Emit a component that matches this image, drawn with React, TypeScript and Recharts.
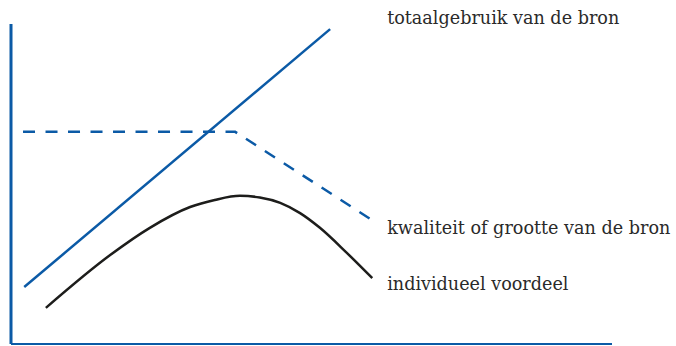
import React from "react";
import { LineChart, Line, XAxis, YAxis } from "recharts";

// schematic values (0-100 on both axes)
const usageX = [2.2, 53.1];
const usageY = [17.8, 98.4];

const qualityX = [2.0, 37.3, 60.1];
const qualityY = [66.3, 66.3, 38.7];

const benefitX = [5.8, 16.5, 23.1, 29.8, 33.9, 38.1, 41.4, 44.8, 48.1, 51.4, 55.7, 60.1];
const benefitY = [11.3, 27.8, 36.3, 42.8, 45.0, 46.3, 45.8, 44.1, 40.9, 36.3, 28.8, 20.6];

const labels = ["totaalgebruik van de bron", "kwaliteit of grootte van de bron", "individueel voordeel"];

const BLUE = "#0b5aa6";
const BLACK = "#1d1d1b";

const toRows = (xs: number[], ys: number[]) => xs.map((x, i) => ({ x, y: ys[i] }));

const usage = toRows(usageX, usageY);
const quality = toRows(qualityX, qualityY);
const benefit = toRows(benefitX, benefitY);

function endLabel(text: string, last: number, dx: number, dy: number) {
    return (props: any) => {
        if (props.index !== last) return <g key={`l-${props.index}`} />;
        return (
            <text
                key={`l-${props.index}`}
                x={props.x + dx}
                y={props.y + dy}
                fill="#2a2a2a"
                fontSize={17.6}
                fontFamily="'DejaVu Serif', serif"
            >
                {text}
            </text>
        );
    };
}

export default function App() {
    return (
        <div style={{ position: "absolute", left: 0, top: 0, background: "#fff" }}>
            <LineChart width={676} height={346} margin={{ top: 24, right: 64, bottom: 1, left: 10 }}>
                <XAxis
                    type="number"
                    dataKey="x"
                    domain={[0, 100]}
                    allowDataOverflow
                    height={1}
                    tick={false}
                    tickLine={false}
                    axisLine={{ stroke: BLUE, strokeWidth: 2 }}
                />
                <YAxis
                    type="number"
                    dataKey="y"
                    domain={[0, 100]}
                    allowDataOverflow
                    width={1}
                    tick={false}
                    tickLine={false}
                    axisLine={{ stroke: BLUE, strokeWidth: 3 }}
                />
                <Line
                    data={usage}
                    dataKey="y"
                    type="linear"
                    stroke={BLUE}
                    strokeWidth={2.5}
                    dot={false}
                    isAnimationActive={false}
                    label={endLabel(labels[0], usage.length - 1, 57, -5)}
                />
                <Line
                    data={quality}
                    dataKey="y"
                    type="linear"
                    stroke={BLUE}
                    strokeWidth={2.5}
                    strokeDasharray="12 10.5"
                    dot={false}
                    isAnimationActive={false}
                    label={endLabel(labels[1], quality.length - 1, 15, 14)}
                />
                <Line
                    data={benefit}
                    dataKey="y"
                    type="monotone"
                    stroke={BLACK}
                    strokeWidth={2.5}
                    dot={false}
                    isAnimationActive={false}
                    label={endLabel(labels[2], benefit.length - 1, 15, 12)}
                />
            </LineChart>
        </div>
    );
}
